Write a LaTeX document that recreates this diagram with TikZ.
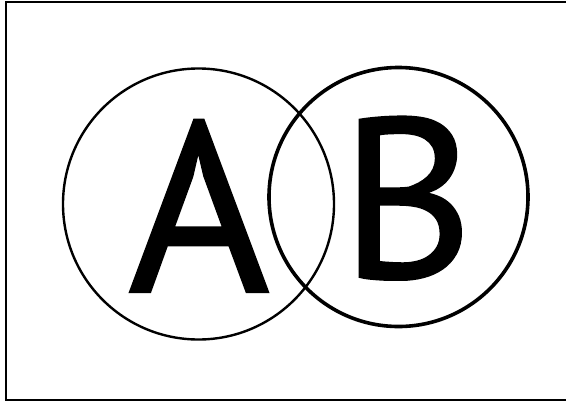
\documentclass[tikz,border=0pt]{standalone}
\usepackage{fontspec}
\setmainfont{PT Sans}
\newfontfamily\letterfont{PT Sans}[FakeBold=1]

\begin{document}
\begin{tikzpicture}[x=0.5pt, y=-0.5pt,
    ring/.style={circle, draw, inner sep=0pt},
    letter/.style={inner sep=0pt, anchor=base}]
    \useasboundingbox (0,0) rectangle (566,402);

    % Draw frame
    \draw[line width=1.2pt] (600,2) -- (6,2) -- (6,400) -- (600,400);

    % Draw circles
    \node[ring, line width=1.2pt, minimum size=135.5pt] (ringA) at (198.5,204) {};
    \node[ring, line width=1.8pt, minimum size=129.5pt] (ringB) at (398.5,197) {};

    % Letters
    \node[letter, font=\letterfont\fontsize{121}{121}\selectfont] (textA) at (199,292) {A};
    \node[letter, font=\letterfont\fontsize{114}{114}\selectfont] (textB) at (407,278) {B};
\end{tikzpicture}
\end{document}
